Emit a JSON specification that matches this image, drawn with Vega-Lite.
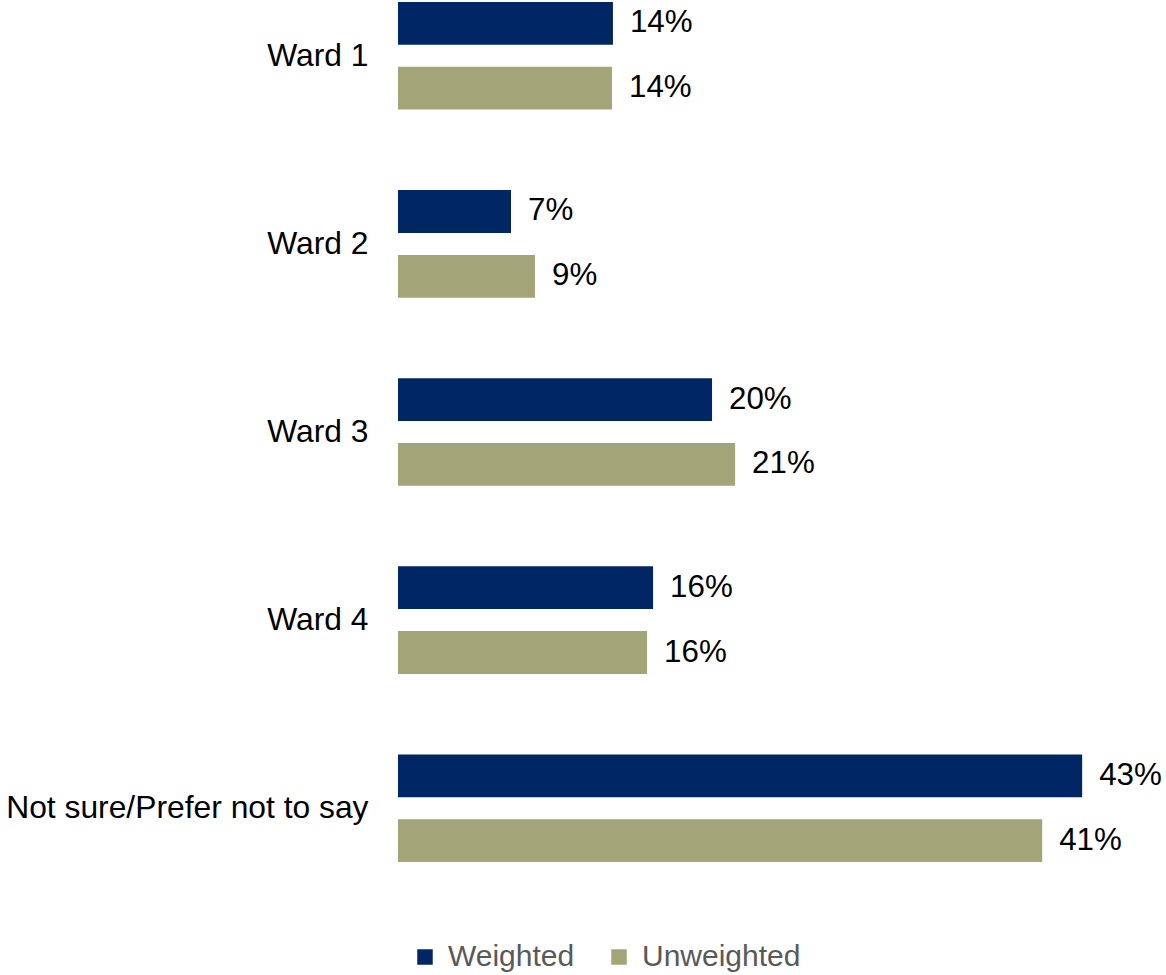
{
  "$schema": "https://vega.github.io/schema/vega-lite/v6.json",
  "autosize": {"type": "none"},
  "width": 727,
  "height": 860,
  "padding": {"left": 398, "top": 2, "right": 41, "bottom": 113},
  "background": "white",
  "config": {"view": {"stroke": null}, "font": "Liberation Sans"},
  "data": {
    "values": [
      {"ward": "Ward 1", "series": "Weighted", "value": 0.136},
      {"ward": "Ward 1", "series": "Unweighted", "value": 0.1354},
      {"ward": "Ward 2", "series": "Weighted", "value": 0.0715},
      {"ward": "Ward 2", "series": "Unweighted", "value": 0.0867},
      {"ward": "Ward 3", "series": "Weighted", "value": 0.1987},
      {"ward": "Ward 3", "series": "Unweighted", "value": 0.2133},
      {"ward": "Ward 4", "series": "Weighted", "value": 0.1614},
      {"ward": "Ward 4", "series": "Unweighted", "value": 0.1576},
      {"ward": "Not sure/Prefer not to say", "series": "Weighted", "value": 0.4329},
      {"ward": "Not sure/Prefer not to say", "series": "Unweighted", "value": 0.4076}
    ]
  },
  "encoding": {
    "y": {
      "field": "ward",
      "type": "nominal",
      "sort": ["Ward 1", "Ward 2", "Ward 3", "Ward 4", "Not sure/Prefer not to say"],
      "scale": {"paddingInner": 0.428, "paddingOuter": 0},
      "axis": {
        "title": null,
        "ticks": false,
        "domain": false,
        "labelFontSize": 31.8,
        "labelColor": "#000000",
        "labelPadding": 30,
        "labelLimit": 600,
        "labelFont": "Liberation Sans"
      }
    },
    "yOffset": {
      "field": "series",
      "type": "nominal",
      "sort": ["Weighted", "Unweighted"],
      "scale": {"paddingInner": 0.34, "paddingOuter": 0}
    },
    "x": {
      "field": "value",
      "type": "quantitative",
      "scale": {"domain": [0, 0.46], "nice": false, "zero": true},
      "axis": null
    }
  },
  "layer": [
    {
      "mark": {"type": "bar"},
      "encoding": {
        "color": {
          "field": "series",
          "type": "nominal",
          "sort": ["Weighted", "Unweighted"],
          "scale": {"domain": ["Weighted", "Unweighted"], "range": ["#002664", "#A3A477"]},
          "legend": {
            "title": null,
            "orient": "none",
            "direction": "horizontal",
            "legendX": 12,
            "legendY": 940,
            "symbolType": "square",
            "symbolSize": 240,
            "symbolStrokeWidth": 0,
            "labelFontSize": 30,
            "labelColor": "#595959",
            "labelFont": "Liberation Sans",
            "labelOffset": 8,
            "columnPadding": 29,
            "padding": 0
          }
        }
      }
    },
    {
      "mark": {"type": "text", "align": "left", "baseline": "middle", "dx": 17, "fontSize": 31.3, "color": "#000000", "font": "Liberation Sans"},
      "encoding": {
        "text": {"field": "value", "type": "quantitative", "format": ".0%"}
      }
    }
  ]
}
